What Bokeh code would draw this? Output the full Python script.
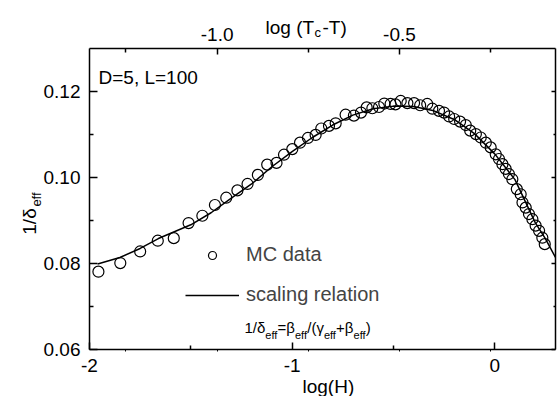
import math
from bokeh.plotting import figure
from bokeh.models import (Range1d, LinearAxis, FixedTicker, PrintfTickFormatter,
                          Label, Legend, LegendItem)
from bokeh.embed import file_html
from bokeh.resources import INLINE

# ---------------- data ----------------
mc_logH = [-1.956, -1.848, -1.750, -1.663, -1.584, -1.511, -1.443, -1.381, -1.325, -1.270,
           -1.220, -1.169, -1.123, -1.077, -1.040, -0.999, -0.961, -0.922, -0.884, -0.856,
           -0.818, -0.785, -0.736, -0.695, -0.660, -0.632, -0.604, -0.571, -0.545, -0.514,
           -0.490, -0.464, -0.431, -0.398, -0.368, -0.333, -0.308, -0.275, -0.250, -0.225,
           -0.200, -0.171, -0.143, -0.121, -0.093, -0.069, -0.044, -0.020, 0.005, 0.021,
           0.038, 0.054, 0.070, 0.087, 0.109, 0.128, 0.137, 0.153, 0.169, 0.186,
           0.202, 0.219, 0.235, 0.247]
mc_inv_delta = [0.0781, 0.0801, 0.0828, 0.0853, 0.0859, 0.0894, 0.0911, 0.0936, 0.0953, 0.0970,
                0.0985, 0.1006, 0.1030, 0.1034, 0.1053, 0.1066, 0.1081, 0.1092, 0.1099, 0.1114,
                0.1120, 0.1126, 0.1146, 0.1144, 0.1151, 0.1163, 0.1161, 0.1164, 0.1172, 0.1171,
                0.1170, 0.1178, 0.1173, 0.1173, 0.1168, 0.1171, 0.1160, 0.1155, 0.1151, 0.1142,
                0.1136, 0.1130, 0.1122, 0.1109, 0.1101, 0.1093, 0.1081, 0.1070, 0.1054, 0.1043,
                0.1031, 0.1020, 0.1008, 0.0996, 0.0973, 0.0961, 0.0942, 0.0930, 0.0915, 0.0903,
                0.0888, 0.0876, 0.0860, 0.0845]

fit_logH = [-1.96, -1.85, -1.75, -1.66, -1.50, -1.40, -1.30, -1.20, -1.10, -1.00, -0.90,
            -0.80, -0.70, -0.60, -0.50, -0.40, -0.30, -0.20, -0.10, 0.00, 0.10, 0.20, 0.25, 0.30]
fit_inv_delta = [0.0799, 0.0814, 0.0835, 0.0858, 0.0890, 0.0918, 0.0952, 0.0985, 0.1025, 0.1060,
                 0.1093, 0.1122, 0.1145, 0.1160, 0.1166, 0.1165, 0.1155, 0.1135, 0.1102, 0.1055,
                 0.0995, 0.0895, 0.0858, 0.0814]

bottom_major = [-2, -1, 0]
bottom_minor = [-1.5, -0.5]
top_major = [-1.0, -0.5]
top_minor = [-1.25, -0.75, -0.25]
left_major = [0.06, 0.08, 0.10, 0.12]
left_minor = [0.07, 0.09, 0.11]

# ---------------- layout ----------------
W, H = 558, 396
X0, X1 = -2.0, 0.30          # log(H) span of the box
Y0, Y1 = 0.06, 0.13          # 1/delta span of the box
T0, T1 = -1.350, -0.072      # log(Tc-T) span of the box
FL, FT, FW, FH = 89, 48, 466, 301   # box position in pixels

FONT = "Liberation Sans"

def px2x(px):
    return X0 + (px - FL) * (X1 - X0) / FW

def px2t(px):
    return T0 + (px - FL) * (T1 - T0) / FW

def py2y(py):
    return Y0 + (FT + FH - py) * (Y1 - Y0) / FH

p = figure(width=W, height=H,
           x_range=Range1d(px2x(0), px2x(W)), y_range=Range1d(py2y(H), py2y(0)),
           output_backend="svg", toolbar_location=None,
           x_axis_location=None, y_axis_location=None,
           min_border=0)
p.grid.visible = False
p.outline_line_color = None
p.background_fill_color = "white"
p.border_fill_color = "white"
p.extra_x_ranges = {"top": Range1d(px2t(0), px2t(W))}

def style(ax, maj_in, min_in, standoff, maj_out=0):
    ax.axis_line_width = 1.5
    ax.major_tick_line_width = 1.5
    ax.minor_tick_line_width = 1.5
    ax.major_tick_in = maj_in
    ax.major_tick_out = maj_out
    ax.minor_tick_in = min_in
    ax.minor_tick_out = 0
    ax.major_label_standoff = standoff
    ax.major_label_text_font = FONT
    ax.major_label_text_color = "black"
    ax.major_label_text_font_size = "19px"

bottom = LinearAxis(fixed_location=Y0, bounds=(X0, X1),
                    ticker=FixedTicker(ticks=bottom_major, minor_ticks=bottom_minor),
                    formatter=PrintfTickFormatter(format="%d"))
style(bottom, 7, 4, 9)
p.add_layout(bottom, "below")

# tiny marks of the upper scale repeated on the lower edge
bottom2 = LinearAxis(x_range_name="top", fixed_location=Y0, bounds=(T0, T1),
                     ticker=FixedTicker(ticks=top_major + top_minor, minor_ticks=[]),
                     major_label_overrides={t: "" for t in top_major + top_minor})
style(bottom2, 0, 0, 0, maj_out=2)
bottom2.axis_line_alpha = 0
bottom2.major_tick_line_width = 1
p.add_layout(bottom2, "below")

top = LinearAxis(x_range_name="top", fixed_location=Y1, bounds=(T0, T1),
                 ticker=FixedTicker(ticks=top_major, minor_ticks=top_minor),
                 formatter=PrintfTickFormatter(format="%.1f"))
style(top, 6, 4, 8)
p.add_layout(top, "above")

left = LinearAxis(fixed_location=X0, bounds=(Y0, Y1),
                  ticker=FixedTicker(ticks=left_major, minor_ticks=left_minor),
                  formatter=PrintfTickFormatter(format="%.2f"))
style(left, 8, 4, 9)
p.add_layout(left, "left")

right = LinearAxis(fixed_location=X1, bounds=(Y0, Y1),
                   ticker=FixedTicker(ticks=left_major, minor_ticks=left_minor),
                   major_label_overrides={t: "" for t in left_major})
style(right, 4, 2, 0)
p.add_layout(right, "right")

# ---------------- marks ----------------
fit = p.line(fit_logH, fit_inv_delta, line_color="black", line_width=1.5)
mc = p.scatter(mc_logH, mc_inv_delta, marker="circle", size=11,
               fill_alpha=0, line_color="black", line_width=1.2)

legend = Legend(items=[LegendItem(label="MC data", renderers=[mc]),
                       LegendItem(label="scaling relation", renderers=[fit])],
                location=(185, 90), orientation="vertical",
                border_line_alpha=0, background_fill_alpha=0,
                padding=0, margin=0, spacing=17,
                glyph_width=54, glyph_height=20, label_height=20,
                label_standoff=7, label_text_font=FONT,
                label_text_font_size="20px")
p.add_layout(legend, "center")

# ---------------- texts ----------------
def lab(text, px, py, size, angle=0.0, align="left", baseline="alphabetic"):
    p.add_layout(Label(x=px2x(px), y=py2y(py), text=text, angle=angle,
                       text_font=FONT, text_font_size=f"{size}px",
                       text_color="black", text_align=align,
                       text_baseline=baseline))

lab("D=5, L=100", 98, 77, 19)

# upper axis title: log (Tc-T)
lab("log (T", 265, 27, 19)
lab("c", 314, 32, 13)
lab("-T)", 322, 27, 19)

# lower axis title
lab("log(H)", 302, 386, 19)

# left axis title: 1/δeff (rotated, anchored at centres)
lab("1/\u03b4", 29, 221, 19, angle=math.pi / 2, align="center", baseline="middle")
lab("eff", 35.5, 199, 13, angle=math.pi / 2, align="center", baseline="middle")

# formula under legend: 1/δeff=βeff/(γeff+βeff)
fx = 244.0
main, sub = 15, 11
for txt, is_sub, w in [("1/\u03b4", False, 1.39), ("eff", True, 1.112),
                       ("=\u03b2", False, 1.16), ("eff", True, 1.112),
                       ("/(\u03b3", False, 1.111), ("eff", True, 1.112),
                       ("+\u03b2", False, 1.16), ("eff", True, 1.112),
                       (")", False, 0.333)]:
    size = sub if is_sub else main
    lab(txt, fx, 334 if is_sub else 327, size)
    fx += w * size

open("out.html", "w").write(file_html(p, INLINE))
